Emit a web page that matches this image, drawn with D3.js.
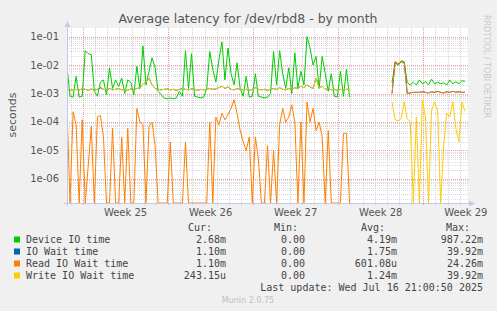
<!DOCTYPE html>
<html>
  <head>
    <meta charset="UTF-8" />
    <script src="https://d3js.org/d3.v7.min.js"></script>
    <style>
      body { margin: 0; background: #f0f0f0; }
      svg text { font-family: "DejaVu Sans", sans-serif; }
      .mono { font-family: "DejaVu Sans Mono", monospace; }
    </style>
  </head>
  <body>
    <div id="my_dataviz"></div>

    <script>
      var width = 497, height = 311;
      var plot = { left: 67, right: 468, top: 28, bottom: 203 };

      // time axis in days since the start of the month view, one sample per 6h
      var spanDays = 33;
      var stepDays = 0.25;
      var firstWeekStart = 1.32;
      var weekLabels = ["Week 25", "Week 26", "Week 27", "Week 28", "Week 29"];

      var yTicks = [1e-6, 1e-5, 1e-4, 1e-3, 1e-2, 1e-1];
      var yTickLabels = ["1e-06", "1e-05", "1e-04", "1e-03", "1e-02", "1e-01"];

      var deviceIO = [
        9e-3, 8e-4, 7.5e-4, 4e-3, 7.5e-4, 8e-4, 3.2e-2, 2.5e-2, 2.3e-2, 1.2e-3,
        8e-4, 2.5e-3, 3e-3, 9e-4, 8e-3, 1.5e-3, 3e-3, 1.8e-3, 3.5e-3, 1e-3,
        3e-3, 2.5e-3, 9e-4, 9e-3, 1.5e-3, 4.7e-2, 2e-3, 6e-3, 1.8e-2, 8e-3,
        1.2e-3, 9e-4, 7e-4, 6.5e-4, 7e-4, 6.5e-4, 7e-4, 1.2e-3, 8e-4, 3.2e-2,
        1.5e-3, 2.5e-2, 8e-4, 7.5e-4, 7e-4, 7.5e-4, 1.5e-3, 3e-2, 7e-3, 2.5e-3,
        1.5e-2, 6.5e-2, 3e-3, 4e-2, 5e-3, 2e-3, 1.2e-2, 1.5e-3, 8e-4, 4e-3,
        7.5e-4, 8e-4, 5e-3, 8e-4, 7.5e-4, 7e-4, 7.5e-4, 1e-3, 3e-2, 2e-3,
        3.2e-2, 5e-3, 1.5e-3, 8e-3, 1e-3, 2.7e-2, 1.5e-3, 6e-3, 2e-3, 1e-1,
        4e-2, 1e-2, 2e-2, 1.5e-3, 2e-2, 5e-3, 1.2e-3, 5e-3, 8e-4, 7.5e-4,
        6e-3, 8e-4, 7e-3, 7.5e-4,
        null, null, null, null, null, null, null, null, null, null, null, null, null,
        2.4e-3, 1.2e-2, 1e-2, 1.3e-2, 1.2e-2, 2.4e-3, 2e-3, 2.5e-3, 2e-3, 3e-3,
        2.2e-3, 2.6e-3, 2e-3, 3.2e-3, 2.2e-3, 2.5e-3, 2.2e-3, 2.4e-3, 2e-3, 3e-3,
        2.2e-3, 2.6e-3, 2.2e-3, 2.8e-3, 2.68e-3
      ];

      var ioWait = [
        1.4e-3, 1.3e-3, 1.35e-3, 1.4e-3, 1.3e-3, 1.5e-3, 1.4e-3, 1.3e-3, 1.45e-3, 1.3e-3,
        1.4e-3, 1.6e-3, 1.4e-3, 1.35e-3, 1.5e-3, 1.35e-3, 1.4e-3, 1.5e-3, 1.35e-3, 1.4e-3,
        1.3e-3, 1.45e-3, 1.4e-3, 1.5e-3, 1.6e-3, 2.2e-3, 2.5e-3, 3.5e-3, 2e-3, 1.5e-3,
        1.4e-3, 1.35e-3, 1.4e-3, 1.45e-3, 1.35e-3, 1.4e-3, 1.3e-3, 1.4e-3, 1.5e-3, 1.4e-3,
        1.35e-3, 1.45e-3, 1.4e-3, 1.3e-3, 1.4e-3, 1.35e-3, 1.4e-3, 1.5e-3, 1.4e-3, 1.45e-3,
        1.6e-3, 1.8e-3, 1.5e-3, 1.7e-3, 1.4e-3, 1.35e-3, 1.5e-3, 1.4e-3, 1.35e-3, 1.4e-3,
        1.3e-3, 1.4e-3, 1.6e-3, 1.4e-3, 1.35e-3, 1.4e-3, 1.3e-3, 1.4e-3, 1.5e-3, 1.4e-3,
        1.6e-3, 1.4e-3, 1.35e-3, 1.5e-3, 1.4e-3, 1.6e-3, 1.5e-3, 1.8e-3, 1.6e-3, 2e-3,
        1.7e-3, 1.5e-3, 3.5e-3, 1.6e-3, 1.8e-3, 1.4e-3, 1.5e-3, 1.35e-3, 1.4e-3, 1.3e-3,
        1.4e-3, 1.35e-3, 1.4e-3, 1.4e-3,
        null, null, null, null, null, null, null, null, null, null, null, null, null,
        1e-3, 1.3e-2, 1.1e-2, 1.4e-2, 1.3e-2, 1e-3, 1.05e-3, 1.1e-3, 1.1e-3, 1.1e-3,
        1.15e-3, 1.1e-3, 1.05e-3, 1.15e-3, 1.1e-3, 1.2e-3, 1.1e-3, 1.05e-3, 1.15e-3, 1.1e-3,
        1.2e-3, 1.1e-3, 1.15e-3, 1.1e-3, 1.1e-3
      ];

      var readWait = [
        3e-4, 0, 2.3e-4, 8e-5, 0, 1.2e-4, 0, 3e-6, 7e-5, 0,
        1.5e-4, 1.7e-4, 3e-5, 0, 0, 6e-5, 0, 0, 3e-5, 0,
        6e-5, 0, 0, 3e-4, 1e-4, 8e-5, 0, 7e-5, 1e-4, 1.5e-5,
        0, 0, 0, 0, 2e-5, 0, 0, 0, 0, 2e-5,
        0, 0, 0, 0, 0, 0, 0, 1e-4, 0, 1.5e-4,
        8e-5, 2e-4, 1.2e-4, 1.8e-4, 3e-4, 6e-4, 2e-4, 5e-5, 2e-5, 1e-5,
        3e-5, 0, 3e-5, 5e-6, 0, 0, 1.5e-5, 0, 1e-5, 0,
        8e-5, 3e-4, 1e-4, 1.5e-4, 4e-4, 1e-4, 0, 1e-4, 0, 5e-4,
        1e-4, 3e-4, 5e-5, 1e-4, 3e-5, 0, 5e-5, 0, 0, 0,
        0, 4e-5, 4e-5, 0,
        null, null, null, null, null, null, null, null, null, null, null, null, null,
        1e-3, 1.3e-2, 1.1e-2, 1.4e-2, 1.3e-2, 1e-3, 1.05e-3, 1.1e-3, 1.1e-3, 1.1e-3,
        1.15e-3, 1.1e-3, 1.05e-3, 1.15e-3, 1.1e-3, 1.2e-3, 1.1e-3, 1.05e-3, 1.15e-3, 1.1e-3,
        1.2e-3, 1.1e-3, 1.15e-3, 1.1e-3, 1.1e-3
      ];

      var writeWait = [
        1.4e-3, 1.3e-3, 1.35e-3, 1.4e-3, 1.3e-3, 1.5e-3, 1.4e-3, 1.3e-3, 1.45e-3, 1.3e-3,
        1.4e-3, 1.8e-3, 1.4e-3, 1.35e-3, 1.5e-3, 1.35e-3, 1.4e-3, 1.5e-3, 1.35e-3, 1.4e-3,
        1.3e-3, 1.45e-3, 1.4e-3, 1.5e-3, 1.6e-3, 2.2e-3, 2.5e-3, 3.5e-3, 2e-3, 1.5e-3,
        1.4e-3, 1.35e-3, 1.4e-3, 1.45e-3, 1.35e-3, 1.4e-3, 1.3e-3, 1.4e-3, 1.5e-3, 1.4e-3,
        1.35e-3, 1.45e-3, 1.4e-3, 1.3e-3, 1.4e-3, 1.35e-3, 1.4e-3, 1.5e-3, 1.4e-3, 1.45e-3,
        1.6e-3, 1.8e-3, 1.5e-3, 1.7e-3, 1.4e-3, 1.35e-3, 1.5e-3, 1.4e-3, 1.35e-3, 1.4e-3,
        1.3e-3, 1.4e-3, 1.6e-3, 1.4e-3, 1.35e-3, 1.4e-3, 1.3e-3, 1.4e-3, 1.5e-3, 1.4e-3,
        1.6e-3, 1.4e-3, 1.35e-3, 1.5e-3, 1.4e-3, 1.6e-3, 1.5e-3, 1.8e-3, 1.6e-3, 2e-3,
        1.7e-3, 1.5e-3, 3.5e-3, 1.6e-3, 1.8e-3, 1.4e-3, 1.5e-3, 1.35e-3, 1.4e-3, 1.3e-3,
        1.4e-3, 1.35e-3, 1.4e-3, 1.4e-3,
        null, null, null, null, null, null, null, null, null, null, null, null, null,
        5e-4, 1.2e-4, 1.1e-4, 1.3e-4, 5e-4, 1.3e-4, 1e-4, 0, 1.5e-4, 0,
        6e-4, 1.5e-4, 0, 2.5e-4, 5e-4, 2.5e-4, 0, 1.5e-5, 2e-4, 1.5e-4,
        5e-4, 6e-5, 2e-5, 5e-4, 2.4e-4
      ];

      var legendNames = ["Device IO time", "IO Wait time", "Read IO Wait time", "Write IO Wait time"];
      var legendColors = ["#00cc00", "#0066b3", "#ff8000", "#ffcc00"];
      var curValues = ["2.68m", "1.10m", "1.10m", "243.15u"];
      var minValues = ["0.00", "0.00", "0.00", "0.00"];
      var avgValues = ["4.19m", "1.75m", "601.08u", "1.24m"];
      var maxValues = ["987.22m", "39.92m", "24.26m", "39.92m"];

      var svg = d3
        .select("#my_dataviz")
        .append("svg")
        .attr("width", width)
        .attr("height", height);

      svg.append("rect").attr("width", width).attr("height", height).attr("fill", "#f0f0f0");

      var xScale = d3.scaleLinear().domain([0, spanDays]).range([plot.left, plot.right]);
      var yScale = d3.scaleLog().domain([1.43e-7, 0.2]).range([plot.bottom, plot.top]);
      var yMin = yScale.domain()[0];

      svg
        .append("rect")
        .attr("x", plot.left)
        .attr("y", plot.top)
        .attr("width", plot.right - plot.left)
        .attr("height", plot.bottom - plot.top)
        .attr("fill", "#ffffff");

      var grid = svg.append("g").attr("shape-rendering", "crispEdges");

      // minor horizontal grid (2..9 per decade)
      var minorY = [];
      for (var e = -7; e <= -1; e++) {
        for (var k = 2; k <= 9; k++) {
          var v = k * Math.pow(10, e);
          if (v > yMin && v < yScale.domain()[1]) minorY.push(v);
        }
      }
      grid
        .selectAll(".minorY")
        .data(minorY)
        .join("line")
        .attr("x1", plot.left)
        .attr("x2", plot.right)
        .attr("y1", (d) => Math.round(yScale(d)) + 0.5)
        .attr("y2", (d) => Math.round(yScale(d)) + 0.5)
        .attr("stroke", "#dcdcdc")
        .attr("stroke-dasharray", "1,1");

      // day grid
      var dayLines = [];
      for (var t = firstWeekStart - 1; t < spanDays; t += 1) dayLines.push(t);
      grid
        .selectAll(".dayLine")
        .data(dayLines)
        .join("line")
        .attr("x1", (d) => Math.round(xScale(d)) + 0.5)
        .attr("x2", (d) => Math.round(xScale(d)) + 0.5)
        .attr("y1", plot.top)
        .attr("y2", plot.bottom + 3)
        .attr("stroke", "#d4d4d4")
        .attr("stroke-dasharray", "1,1");

      // decade grid
      grid
        .selectAll(".majorY")
        .data(yTicks)
        .join("line")
        .attr("x1", plot.left)
        .attr("x2", plot.right)
        .attr("y1", (d) => Math.round(yScale(d)) + 0.5)
        .attr("y2", (d) => Math.round(yScale(d)) + 0.5)
        .attr("stroke", "#eaa0a0")
        .attr("stroke-dasharray", "1,1");

      // week grid
      var weekStarts = weekLabels.map((d, i) => firstWeekStart + i * 7);
      grid
        .selectAll(".weekLine")
        .data(weekStarts)
        .join("line")
        .attr("x1", (d) => Math.round(xScale(d)) + 0.5)
        .attr("x2", (d) => Math.round(xScale(d)) + 0.5)
        .attr("y1", plot.top)
        .attr("y2", plot.bottom + 3)
        .attr("stroke", "#eaa0a0")
        .attr("stroke-dasharray", "1,1");

      // series
      svg
        .append("clipPath")
        .attr("id", "clip")
        .append("rect")
        .attr("x", plot.left)
        .attr("y", plot.top)
        .attr("width", plot.right - plot.left)
        .attr("height", plot.bottom - plot.top + 1);

      var lineGen = d3
        .line()
        .defined((d) => d != null)
        .x((d, i) => xScale(i * stepDays))
        .y((d) => yScale(Math.max(d, yMin)));

      var series = [deviceIO, ioWait, readWait, writeWait];
      var lines = svg.append("g").attr("clip-path", "url(#clip)");
      series.forEach(function (s, i) {
        lines
          .append("path")
          .attr("d", lineGen(s))
          .attr("fill", "none")
          .attr("stroke", legendColors[i])
          .attr("stroke-width", 1);
      });

      // axes
      var axisColor = "#c4c8ee";
      svg
        .append("line")
        .attr("x1", plot.left + 0.5)
        .attr("x2", plot.left + 0.5)
        .attr("y1", plot.bottom + 3)
        .attr("y2", plot.top - 5)
        .attr("stroke", axisColor);
      svg
        .append("path")
        .attr("d", `M${plot.left - 2.5},${plot.top - 1} L${plot.left + 3.5},${plot.top - 1} L${plot.left + 0.5},${plot.top - 7} Z`)
        .attr("fill", axisColor);
      svg
        .append("line")
        .attr("x1", plot.left - 3)
        .attr("x2", plot.right + 5)
        .attr("y1", plot.bottom + 0.5)
        .attr("y2", plot.bottom + 0.5)
        .attr("stroke", axisColor);
      svg
        .append("path")
        .attr("d", `M${plot.right + 1},${plot.bottom - 2.5} L${plot.right + 1},${plot.bottom + 3.5} L${plot.right + 7},${plot.bottom + 0.5} Z`)
        .attr("fill", axisColor);

      svg
        .append("g")
        .selectAll("text")
        .data(yTicks)
        .join("text")
        .attr("x", plot.left - 8)
        .attr("y", (d) => yScale(d) + 3.5)
        .attr("text-anchor", "end")
        .attr("font-size", 10)
        .attr("fill", "#555")
        .text((d, i) => yTickLabels[i]);

      svg
        .append("g")
        .selectAll("text")
        .data(weekLabels)
        .join("text")
        .attr("x", (d, i) => xScale(weekStarts[i] + 3.5))
        .attr("y", 216)
        .attr("text-anchor", "middle")
        .attr("font-size", 10)
        .attr("fill", "#555")
        .text((d) => d);

      svg
        .append("text")
        .attr("x", 248)
        .attr("y", 23)
        .attr("text-anchor", "middle")
        .attr("font-size", 12.5)
        .attr("fill", "#555")
        .text("Average latency for /dev/rbd8 - by month");

      svg
        .append("text")
        .attr("transform", "translate(16,115) rotate(-90)")
        .attr("text-anchor", "middle")
        .attr("font-size", 11)
        .attr("fill", "#555")
        .text("seconds");

      svg
        .append("text")
        .attr("transform", "translate(484,15) rotate(90)")
        .attr("text-anchor", "start")
        .attr("font-size", 8)
        .attr("fill", "#c8c8c8")
        .text("RRDTOOL / TOBI OETIKER");

      // legend
      var legend = svg.append("g").attr("class", "mono").attr("font-size", 10).attr("fill", "#444");
      var headers = ["Cur:", "Min:", "Avg:", "Max:"];
      var headerRight = [212, 298, 385, 470];
      var colRight = [226, 305, 397, 483];
      var columns = [curValues, minValues, avgValues, maxValues];

      legend
        .selectAll(".hdr")
        .data(headers)
        .join("text")
        .attr("class", "mono")
        .attr("x", (d, i) => headerRight[i])
        .attr("y", 231)
        .attr("text-anchor", "end")
        .text((d) => d);

      legendNames.forEach(function (name, r) {
        var yy = 243 + r * 12;
        legend
          .append("rect")
          .attr("x", 14)
          .attr("y", yy - 6.5)
          .attr("width", 6)
          .attr("height", 6)
          .attr("fill", legendColors[r]);
        legend.append("text").attr("class", "mono").attr("x", 26).attr("y", yy).text(name);
        columns.forEach(function (col, c) {
          legend
            .append("text")
            .attr("class", "mono")
            .attr("x", colRight[c])
            .attr("y", yy)
            .attr("text-anchor", "end")
            .text(col[r]);
        });
      });

      legend
        .append("text")
        .attr("class", "mono")
        .attr("x", 483)
        .attr("y", 291)
        .attr("text-anchor", "end")
        .text("Last update: Wed Jul 16 21:00:50 2025");

      svg
        .append("text")
        .attr("x", 248)
        .attr("y", 303)
        .attr("text-anchor", "middle")
        .attr("font-size", 8)
        .attr("fill", "#c0c0c0")
        .text("Munin 2.0.75");
    </script>
  </body>
</html>
